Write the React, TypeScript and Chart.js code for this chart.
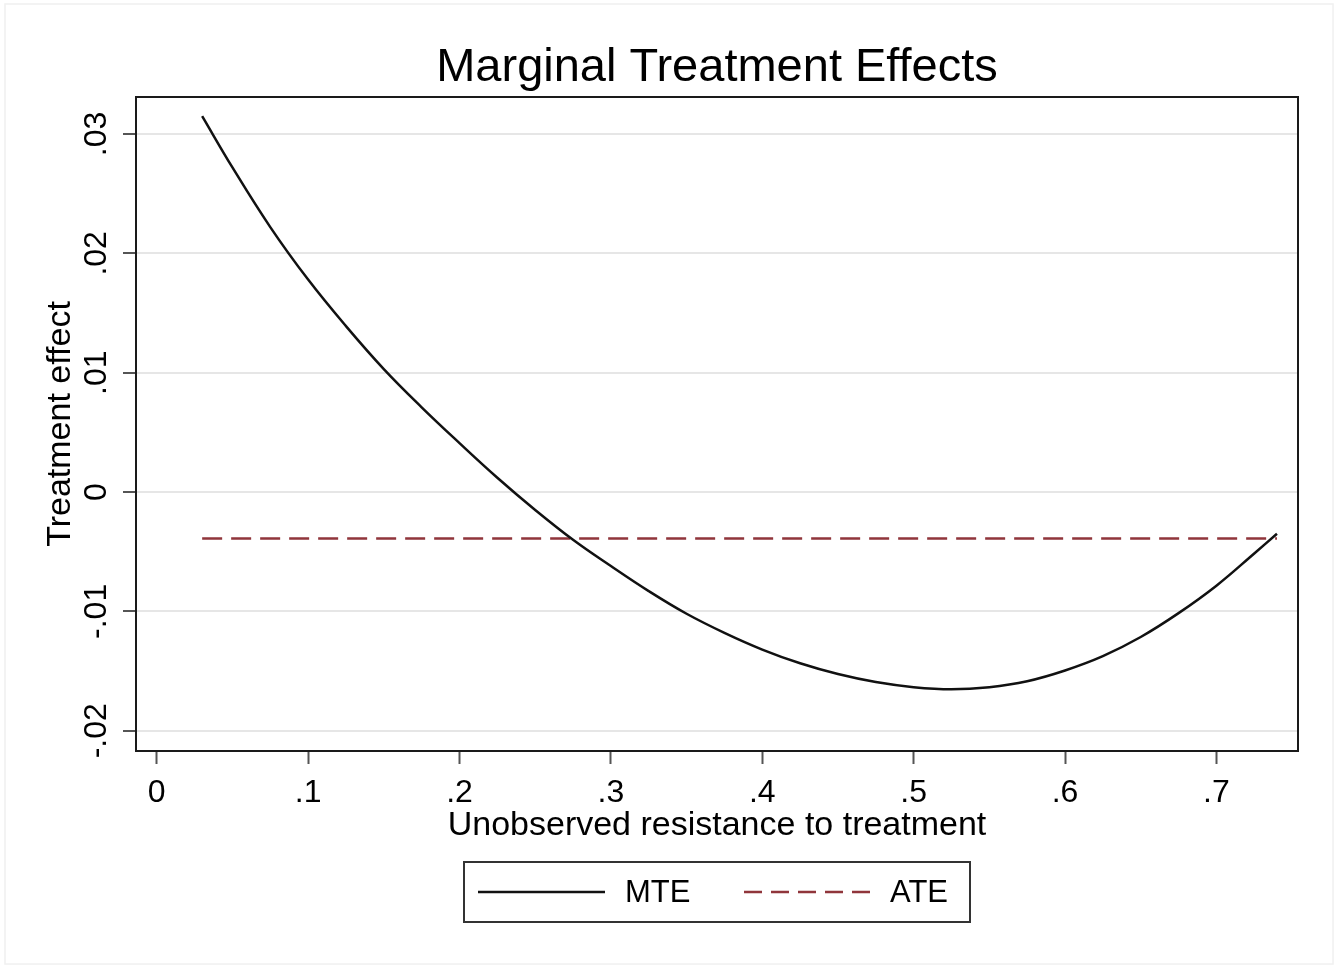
import React, { useEffect, useRef } from "react";
import { Chart, registerables } from "chart.js";

Chart.register(...registerables);

const TITLE = "Marginal Treatment Effects";
const X_TITLE = "Unobserved resistance to treatment";
const Y_TITLE = "Treatment effect";

const mteX = [0.03, 0.05, 0.075, 0.1, 0.125, 0.15, 0.175, 0.2, 0.225, 0.25, 0.275, 0.3, 0.325, 0.35, 0.375, 0.4, 0.425, 0.45, 0.475, 0.5, 0.525, 0.55, 0.575, 0.6, 0.625, 0.65, 0.675, 0.7, 0.725, 0.74];
const mteY = [0.0315, 0.0272, 0.0222, 0.0178, 0.0139, 0.0103, 0.0071, 0.0041, 0.0012, -0.0015, -0.004, -0.0062, -0.0083, -0.0102, -0.0118, -0.0132, -0.01435, -0.01525, -0.01592, -0.01635, -0.01653, -0.01635, -0.01585, -0.01495, -0.01375, -0.01215, -0.01015, -0.00785, -0.00515, -0.0035];

const ateX = [0.03, 0.74];
const ateY = [-0.0039, -0.0039];

const seriesLabels = ["MTE", "ATE"];

const xTickValues = [0, 0.1, 0.2, 0.3, 0.4, 0.5, 0.6, 0.7];
const xTickLabels = ["0", ".1", ".2", ".3", ".4", ".5", ".6", ".7"];
const yTickValues = [-0.02, -0.01, 0, 0.01, 0.02, 0.03];
const yTickLabels = ["-.02", "-.01", "0", ".01", ".02", ".03"];

const FONT = "'Liberation Sans', Arial, Helvetica, sans-serif";
const ATE_COLOR = "#90353B";

const findLabel = (vals: number[], labels: string[], v: number) => {
  const i = vals.findIndex((t) => Math.abs(t - v) < 1e-9);
  return i >= 0 ? labels[i] : "";
};

const framePlugin = {
  id: "frameAndExtras",
  beforeDraw(chart: any) {
    const ctx = chart.ctx;
    ctx.save();
    ctx.fillStyle = "#ffffff";
    ctx.fillRect(0, 0, chart.width, chart.height);
    ctx.strokeStyle = "#f0f0f0";
    ctx.lineWidth = 1.5;
    ctx.strokeRect(5, 4, chart.width - 7, chart.height - 6);
    ctx.restore();
  },
  afterDraw(chart: any) {
    const ctx = chart.ctx;
    const a = chart.chartArea;
    ctx.save();
    // frame
    ctx.strokeStyle = "#1a1a1a";
    ctx.lineWidth = 2;
    ctx.strokeRect(a.left, a.top, a.right - a.left, a.bottom - a.top);

    // title centred over the plot region
    ctx.fillStyle = "#000";
    ctx.font = `47px ${FONT}`;
    ctx.textAlign = "center";
    ctx.textBaseline = "alphabetic";
    ctx.fillText(TITLE, (a.left + a.right) / 2, 81);

    // y tick labels (rotated)
    const ys = chart.scales.y;
    ctx.font = `32px ${FONT}`;
    ctx.textAlign = "center";
    ctx.textBaseline = "middle";
    yTickValues.forEach((v) => {
      const py = ys.getPixelForValue(v);
      ctx.save();
      ctx.translate(97, py);
      ctx.rotate(-Math.PI / 2);
      ctx.fillText(findLabel(yTickValues, yTickLabels, v), 0, 0);
      ctx.restore();
    });

    // legend
    const bx = 464, by = 862, bw = 506, bh = 60;
    ctx.strokeStyle = "#333";
    ctx.lineWidth = 2;
    ctx.strokeRect(bx, by, bw, bh);
    const cy = by + bh / 2;
    const ds = chart.data.datasets;
    ctx.strokeStyle = ds[0].borderColor;
    ctx.lineWidth = ds[0].borderWidth;
    ctx.setLineDash([]);
    ctx.beginPath();
    ctx.moveTo(478, cy);
    ctx.lineTo(605, cy);
    ctx.stroke();
    ctx.fillStyle = "#000";
    ctx.font = `31px ${FONT}`;
    ctx.textAlign = "left";
    ctx.textBaseline = "middle";
    ctx.fillText(ds[0].label, 625, cy + 1);
    ctx.strokeStyle = ds[1].borderColor;
    ctx.lineWidth = ds[1].borderWidth;
    ctx.setLineDash([18, 9]);
    ctx.beginPath();
    ctx.moveTo(744, cy);
    ctx.lineTo(870, cy);
    ctx.stroke();
    ctx.setLineDash([]);
    ctx.fillText(ds[1].label, 890, cy + 1);
    ctx.restore();
  },
};

export default function App() {
  const ref = useRef<HTMLCanvasElement | null>(null);

  useEffect(() => {
    if (!ref.current) return;
    const chart = new Chart(ref.current, {
      type: "line",
      data: {
        datasets: [
          {
            label: seriesLabels[0],
            data: mteX.map((x, i) => ({ x, y: mteY[i] })),
            borderColor: "#111111",
            borderWidth: 2.5,
            pointRadius: 0,
            tension: 0.4,
            fill: false,
          },
          {
            label: seriesLabels[1],
            data: ateX.map((x, i) => ({ x, y: ateY[i] })),
            borderColor: ATE_COLOR,
            borderWidth: 2.5,
            borderDash: [20, 9],
            pointRadius: 0,
            fill: false,
          },
        ],
      },
      options: {
        responsive: false,
        animation: false,
        events: [],
        layout: { padding: { left: 0, right: 37, top: 97, bottom: 0 } },
        plugins: {
          legend: { display: false },
          tooltip: { enabled: false },
          title: { display: false },
        },
        scales: {
          x: {
            type: "linear",
            min: -0.0137,
            max: 0.7539,
            afterFit: (s: any) => {
              s.height = 215;
            },
            afterBuildTicks: (s: any) => {
              s.ticks = xTickValues.map((v) => ({ value: v }));
            },
            grid: {
              drawOnChartArea: false,
              drawTicks: true,
              tickLength: 13,
              tickColor: "#555",
              tickWidth: 2,
            },
            border: { display: true, color: "#1a1a1a", width: 2 },
            ticks: {
              color: "#000",
              font: { family: FONT, size: 32, lineHeight: 1.2 },
              padding: 10,
              maxRotation: 0,
              minRotation: 0,
              autoSkip: false,
              callback: (v: any) => findLabel(xTickValues, xTickLabels, Number(v)),
            },
            title: {
              display: true,
              text: X_TITLE,
              color: "#000",
              font: { family: FONT, size: 34, lineHeight: 1.2 },
              padding: { top: 0, bottom: 120 },
            },
          },
          y: {
            type: "linear",
            min: -0.0217,
            max: 0.0331,
            afterFit: (s: any) => {
              s.width = 136;
            },
            afterBuildTicks: (s: any) => {
              s.ticks = yTickValues.map((v) => ({ value: v }));
            },
            grid: {
              color: "#e6e6e6",
              lineWidth: 2,
              drawTicks: true,
              tickLength: 13,
              tickColor: "#555",
              tickWidth: 2,
            },
            border: { display: true, color: "#1a1a1a", width: 2 },
            ticks: { display: false },
            title: {
              display: true,
              text: Y_TITLE,
              color: "#000",
              font: { family: FONT, size: 34, lineHeight: 1.2 },
              padding: { top: 40, bottom: 0 },
            },
          },
        },
      },
      plugins: [framePlugin],
    } as any);
    return () => chart.destroy();
  }, []);

  return (
    <div style={{ position: "fixed", left: 0, top: 0, width: 1335, height: 966, background: "#fff" }}>
      <canvas ref={ref} width={1335} height={966} style={{ width: 1335, height: 966, display: "block" }} />
    </div>
  );
}
